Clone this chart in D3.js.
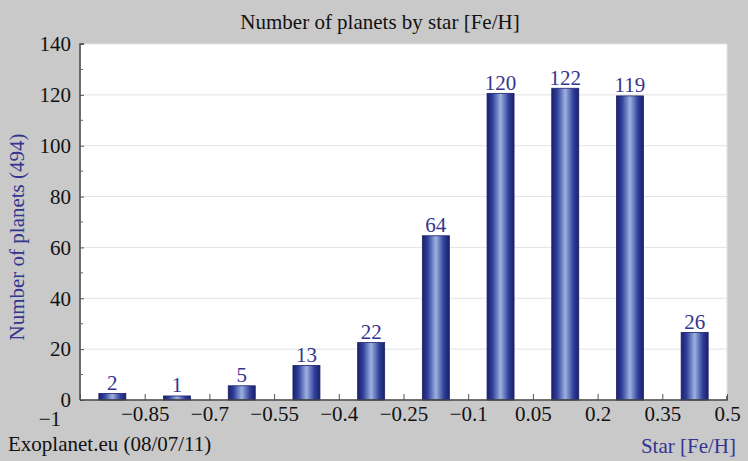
<!DOCTYPE html>
<html><head><meta charset="utf-8">
<script src="https://cdn.jsdelivr.net/npm/d3@7"></script>
<style>body{margin:0;background:#c8c8c8;} svg{display:block;}</style>
</head><body><svg id="c" width="748" height="461"></svg>
<script>
const binCenters = [-0.925,-0.775,-0.625,-0.475,-0.325,-0.175,-0.025,0.125,0.275,0.425];
const counts = [2,1,5,13,22,64,120,122,119,26];
const xTicks = [-1,-0.85,-0.7,-0.55,-0.4,-0.25,-0.1,0.05,0.2,0.35,0.5];
const yTicks = [0,20,40,60,80,100,120,140];
const yMinor = [10,30,50,70,90,110,130];
const title = "Number of planets by star [Fe/H]";
const yTitle = "Number of planets (494)";
const xTitle = "Star [Fe/H]";
const credit = "Exoplanet.eu (08/07/11)";

const W=748,H=461, L=80, R=727, T=44, B=400;
const svg=d3.select("#c");
const font="Liberation Serif, DejaVu Serif, serif";
const fs=21;
const blue="#34358f";
svg.append("rect").attr("width",W).attr("height",H).attr("fill","#c9c9c9");
svg.append("rect").attr("x",L).attr("y",T).attr("width",R-L).attr("height",B-T).attr("fill","#ffffff").attr("stroke","#e6e6e6");

const x=d3.scaleLinear().domain([-1,0.5]).range([L,R]);
const y=d3.scaleLinear().domain([0,140]).range([B,T]);

const defs=svg.append("defs");
const g=defs.append("linearGradient").attr("id","bg").attr("x1","0").attr("x2","1").attr("y1","0").attr("y2","0");
[[0,"#1c1f6e"],[0.2,"#2f3f9a"],[0.5,"#9db1e0"],[0.8,"#2f3f9a"],[1,"#1c1f6e"]].forEach(s=>g.append("stop").attr("offset",s[0]).attr("stop-color",s[1]));

// grid
svg.append("g").selectAll("line").data(yTicks.filter(d=>d>0&&d<140)).join("line")
 .attr("x1",L).attr("x2",R).attr("y1",d=>y(d)).attr("y2",d=>y(d)).attr("stroke","#e4e4e4").attr("stroke-width",1);

const bw=27;
svg.append("g").selectAll("rect").data(counts).join("rect")
 .attr("x",(d,i)=>x(binCenters[i])-bw/2).attr("width",bw)
 .attr("y",d=>y(d)-1.5).attr("height",d=>B-y(d)+1.5)
 .attr("fill","url(#bg)").attr("stroke","#1e2266").attr("stroke-width",0.8);

svg.append("g").selectAll("text").data(counts).join("text")
 .attr("x",(d,i)=>x(binCenters[i])).attr("y",d=>y(d)-5)
 .attr("text-anchor","middle").attr("font-family",font).attr("font-size",fs).attr("fill",blue).text(d=>d);

// axes
const ya=d3.axisLeft(y).tickValues(yTicks).tickSize(-4).tickPadding(9).tickFormat(d3.format("d"));
const yg=svg.append("g").attr("transform",`translate(${L},0)`).call(ya);
yg.selectAll(".tick line").attr("stroke","#555");
yg.append("g").selectAll("line").data(yMinor).join("line").attr("x1",0).attr("x2",3).attr("y1",d=>y(d)).attr("y2",d=>y(d)).attr("stroke","#666");
yg.select(".domain").attr("d",`M4,${T}H0V${B}`).attr("stroke","#444").attr("stroke-width",1.5);
yg.selectAll("text").attr("font-family",font).attr("font-size",fs).attr("fill","#111");

const xa=d3.axisBottom(x).tickValues(xTicks).tickSize(-6).tickPadding(6)
 .tickFormat(d=>d===-1?"":d3.format("")(d).replace("-","\u2212"));
const xg=svg.append("g").attr("transform",`translate(0,${B})`).call(xa);
xg.selectAll(".tick line").attr("stroke","#555");
xg.select(".domain").attr("d",`M${L},0H${R}V-4`).attr("stroke","#444").attr("stroke-width",1.5);
xg.selectAll("text").attr("font-family",font).attr("font-size",fs).attr("fill","#111");
svg.append("text").attr("x",x(-1)-19).attr("y",426).attr("text-anchor","end").attr("font-family",font).attr("font-size",fs).attr("fill","#111").text("\u22121");

svg.append("text").attr("x",W/2+6).attr("y",29).attr("text-anchor","middle").attr("font-family",font).attr("font-size",fs).attr("fill","#111").text(title);
svg.append("text").attr("transform",`translate(24,${(T+B)/2+15}) rotate(-90)`).attr("text-anchor","middle").attr("font-family",font).attr("font-size",fs).attr("fill",blue).text(yTitle);
svg.append("text").attr("x",736).attr("y",453).attr("text-anchor","end").attr("font-family",font).attr("font-size",fs).attr("fill",blue).text(xTitle);
svg.append("text").attr("x",8).attr("y",451).attr("font-family",font).attr("font-size",fs).attr("fill","#111").text(credit);
</script></body></html>
